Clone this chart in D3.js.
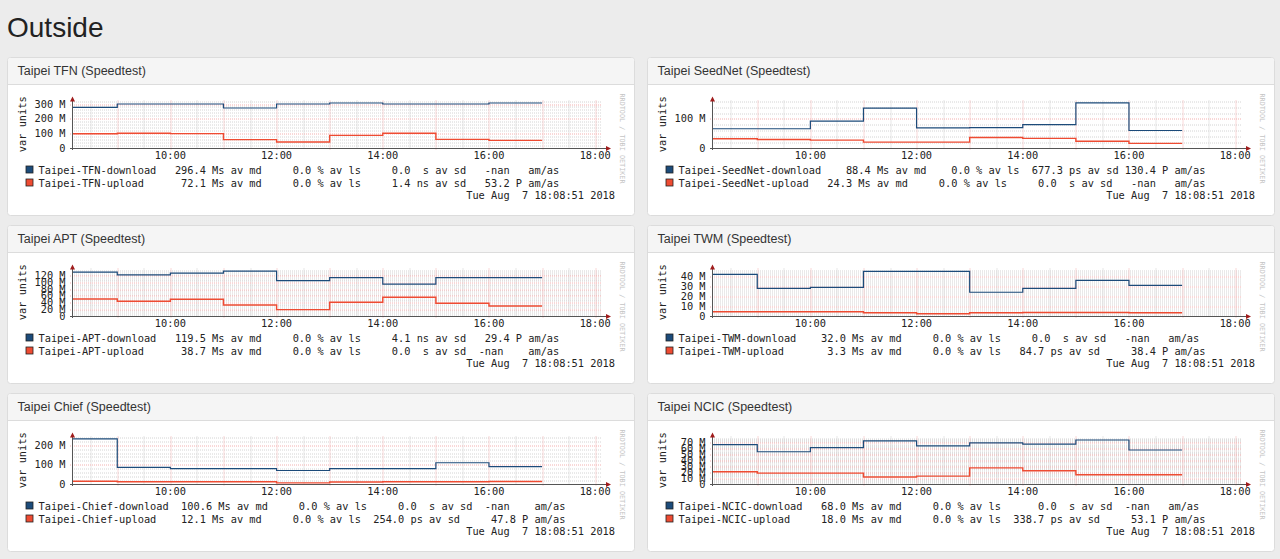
<!DOCTYPE html>
<html>
<head>
<meta charset="utf-8">
<script src="https://cdn.jsdelivr.net/npm/d3@7"></script>
<style>
  body { margin: 0; background: #ececec; }
  svg { display: block; }
  .mono { font-family: "DejaVu Sans Mono", monospace; white-space: pre; }
</style>
</head>
<body>
<svg id="page" width="1280" height="559"></svg>
<script>
// ------------------------------------
// Data
// ------------------------------------
const stepHours = [8.1475, 9, 10, 11, 12, 13, 14, 15, 16];   // start of each step
const endHour = 17;
const timeDomain = [8.1475, 18.1475];                        // 8:08:51 .. 18:08:51
const hourLabels = [10, 12, 14, 16, 18];
const stamp = "Tue Aug  7 18:08:51 2018";

const titles = ["Taipei TFN (Speedtest)", "Taipei SeedNet (Speedtest)", "Taipei APT (Speedtest)",
                "Taipei TWM (Speedtest)", "Taipei Chief (Speedtest)", "Taipei NCIC (Speedtest)"];

// download / upload in M
const tfnDown = [277, 300, 300, 273, 300, 307, 300, 300, 307];
const tfnUp   = [97, 101, 98, 57, 41, 86, 101, 59, 52];
const seedDown = [66, 66, 92, 137, 69, 70, 80, 155, 60];
const seedUp   = [32, 29, 27, 20, 20, 36, 33, 23, 16];
const aptDown = [131, 123, 128, 134, 106, 115, 95, 115, 115];
const aptUp   = [51, 44, 50, 33, 19, 41, 56, 38, 30];
const twmDown = [42, 28, 29, 45, 45, 24, 28, 36, 31];
const twmUp   = [4.3, 4.3, 4.3, 3.3, 2.3, 3.3, 3.5, 3.5, 3.3];
const chiefDown = [234, 86, 80, 80, 70, 80, 80, 110, 90];
const chiefUp   = [14, 12, 12, 12, 6, 10, 12, 12, 13];
const ncicDown = [67, 55, 62, 73.5, 65, 70, 68, 75, 58];
const ncicUp   = [21, 18.5, 18.5, 12, 13.5, 27.5, 22.5, 15.7, 15.7];

// y axis: max, label step, top label, minor grid step
const yMax   = [324, 163, 142, 48, 246, 81];
const yMajor = [100, 100, 20, 10, 100, 10];
const yTopLabel = [300, 100, 120, 40, 200, 70];
const yMinor = [20, 20, 5, 2, 20, 2];

// legend rows: [column, text]
const legendDown = [
  [[0,"Taipei-TFN-download"],[22,"296.4 Ms av md"],[41,"0.0 % av ls"],[57,"0.0  s av sd"],[72,"-nan"],[79,"am/as"]],
  [[0,"Taipei-SeedNet-download"],[27,"88.4 Ms av md"],[44,"0.0 % av ls"],[57,"677.3 ps av sd"],[72,"130.4 P am/as"]],
  [[0,"Taipei-APT-download"],[22,"119.5 Ms av md"],[41,"0.0 % av ls"],[57,"4.1 ns av sd"],[72,"29.4 P am/as"]],
  [[0,"Taipei-TWM-download"],[23,"32.0 Ms av md"],[41,"0.0 % av ls"],[57,"0.0  s av sd"],[72,"-nan"],[79,"am/as"]],
  [[0,"Taipei-Chief-download"],[23,"100.6 Ms av md"],[42,"0.0 % av ls"],[58,"0.0  s av sd"],[72,"-nan"],[80,"am/as"]],
  [[0,"Taipei-NCIC-download"],[23,"68.0 Ms av md"],[41,"0.0 % av ls"],[58,"0.0  s av sd"],[72,"-nan"],[79,"am/as"]]
];
const legendUp = [
  [[0,"Taipei-TFN-upload"],[23,"72.1 Ms av md"],[41,"0.0 % av ls"],[57,"1.4 ns av sd"],[72,"53.2 P am/as"]],
  [[0,"Taipei-SeedNet-upload"],[24,"24.3 Ms av md"],[42,"0.0 % av ls"],[58,"0.0  s av sd"],[73,"-nan"],[80,"am/as"]],
  [[0,"Taipei-APT-upload"],[23,"38.7 Ms av md"],[41,"0.0 % av ls"],[57,"0.0  s av sd"],[71,"-nan"],[79,"am/as"]],
  [[0,"Taipei-TWM-upload"],[24,"3.3 Ms av md"],[41,"0.0 % av ls"],[55,"84.7 ps av sd"],[73,"38.4 P am/as"]],
  [[0,"Taipei-Chief-upload"],[23,"12.1 Ms av md"],[41,"0.0 % av ls"],[54,"254.0 ps av sd"],[73,"47.8 P am/as"]],
  [[0,"Taipei-NCIC-upload"],[23,"18.0 Ms av md"],[41,"0.0 % av ls"],[54,"338.7 ps av sd"],[73,"53.1 P am/as"]]
];

const downSeries = [tfnDown, seedDown, aptDown, twmDown, chiefDown, ncicDown];
const upSeries = [tfnUp, seedUp, aptUp, twmUp, chiefUp, ncicUp];

// ------------------------------------
// Layout
// ------------------------------------
const cardPos = [[7.5, 57.5], [647.5, 57.5], [7.5, 225.5], [647.5, 225.5], [7.5, 393.5], [647.5, 393.5]];
const cardW = 627, cardH = 158;
const DOWN = "#1c4b7a", UP = "#ee4b32";
const MONO = 10.3;

const svg = d3.select("#page");

svg.append("text")
  .attr("x", 7).attr("y", 37)
  .attr("font-family", "Liberation Sans, Arial, sans-serif")
  .attr("font-size", 28)
  .attr("fill", "#222")
  .text("Outside");

function padCols(fields) {
  let s = "";
  fields.forEach(([c, t]) => {
    while (s.length < c) s += " ";
    if (s.length > c) s += " ";
    s += t;
  });
  return s;
}

function toSteps(values) {
  const pts = values.map((v, i) => ({ t: stepHours[i], v }));
  pts.push({ t: endHour, v: values[values.length - 1] });
  return pts;
}

cardPos.forEach(([x0, y0], i) => drawCard(x0, y0, i));

function drawCard(x0, y0, i) {
  const g = svg.append("g").attr("transform", `translate(${x0},${y0})`);

  g.append("rect")
    .attr("width", cardW).attr("height", cardH).attr("rx", 3)
    .attr("fill", "#fff").attr("stroke", "#dcdcdc");
  g.append("path")
    .attr("d", `M0.5,27 V3 Q0.5,0.5 3,0.5 H${cardW - 3} Q${cardW - 0.5},0.5 ${cardW - 0.5},3 V27 Z`)
    .attr("fill", "#f5f5f5");
  g.append("line")
    .attr("x1", 0).attr("x2", cardW).attr("y1", 27).attr("y2", 27)
    .attr("stroke", "#dcdcdc");
  g.append("text")
    .attr("x", 10).attr("y", 17)
    .attr("font-family", "Liberation Sans, Arial, sans-serif")
    .attr("font-size", 12.5)
    .attr("fill", "#333")
    .text(titles[i]);

  // plot area
  const left = 64.5, right = 593.5, top = 43, bottom = 90.5;

  const x = d3.scaleLinear().domain(timeDomain).range([left, left + 531]);
  const y = d3.scaleLinear().domain([0, yMax[i]]).range([bottom, top]);

  const grid = g.append("g");

  // minor grid
  d3.range(8.5, 18.01, 0.5).filter(h => h % 1 !== 0).forEach(h => {
    grid.append("line")
      .attr("x1", Math.round(x(h)) + 0.5).attr("x2", Math.round(x(h)) + 0.5)
      .attr("y1", top).attr("y2", bottom)
      .attr("stroke", "#cfcfcf").attr("stroke-dasharray", "1,1");
  });
  d3.range(yMinor[i], yMax[i], yMinor[i]).filter(v => v % yMajor[i] !== 0).forEach(v => {
    grid.append("line")
      .attr("x1", left).attr("x2", right)
      .attr("y1", Math.round(y(v)) + 0.5).attr("y2", Math.round(y(v)) + 0.5)
      .attr("stroke", "#d4d4d4").attr("stroke-dasharray", "1,1");
  });

  // major grid
  d3.range(9, 18.01, 1).forEach(h => {
    grid.append("line")
      .attr("x1", Math.round(x(h)) + 0.5).attr("x2", Math.round(x(h)) + 0.5)
      .attr("y1", top).attr("y2", bottom + 2)
      .attr("stroke", "#f3b0b0").attr("stroke-dasharray", "1,1");
  });
  d3.range(yMajor[i], yTopLabel[i] + 1, yMajor[i]).forEach(v => {
    grid.append("line")
      .attr("x1", left - 2).attr("x2", right)
      .attr("y1", Math.round(y(v)) + 0.5).attr("y2", Math.round(y(v)) + 0.5)
      .attr("stroke", "#f3b0b0").attr("stroke-dasharray", "1,1");
  });

  // series
  const line = d3.line()
    .x(d => x(d.t))
    .y(d => y(d.v))
    .curve(d3.curveStepAfter);

  g.append("path")
    .datum(toSteps(upSeries[i]))
    .attr("fill", "none").attr("stroke", UP).attr("stroke-width", 1.4)
    .attr("d", line);
  g.append("path")
    .datum(toSteps(downSeries[i]))
    .attr("fill", "none").attr("stroke", DOWN).attr("stroke-width", 1.2)
    .attr("d", line);

  // axes + arrows
  g.append("line")
    .attr("x1", left - 2).attr("x2", right + 6)
    .attr("y1", bottom + 0.5).attr("y2", bottom + 0.5)
    .attr("stroke", "#555");
  g.append("line")
    .attr("x1", left + 0.5).attr("x2", left + 0.5)
    .attr("y1", bottom + 2).attr("y2", top - 2)
    .attr("stroke", "#555");
  g.append("path")
    .attr("d", `M${right + 5},${bottom - 2} L${right + 10},${bottom + 0.5} L${right + 5},${bottom + 3} Z`)
    .attr("fill", "#a01c1c");
  g.append("path")
    .attr("d", `M${left - 2},${top + 1} L${left + 0.5},${top - 4} L${left + 3},${top + 1} Z`)
    .attr("fill", "#a01c1c");

  // tick labels
  g.selectAll(".xl")
    .data(hourLabels)
    .join("text")
    .attr("class", "mono")
    .attr("x", d => x(d)).attr("y", bottom + 10.5)
    .attr("text-anchor", "middle")
    .attr("font-size", MONO).attr("fill", "#222")
    .text(d => `${d}:00`);

  g.selectAll(".yl")
    .data(d3.range(0, yTopLabel[i] + 1, yMajor[i]))
    .join("text")
    .attr("class", "mono")
    .attr("x", 58).attr("y", d => y(d) + 3.5)
    .attr("text-anchor", "end")
    .attr("font-size", MONO).attr("fill", "#222")
    .text(d => d === 0 ? "0" : `${d} M`);

  g.append("text")
    .attr("class", "mono")
    .attr("transform", `translate(18,${(top + bottom) / 2}) rotate(-90)`)
    .attr("text-anchor", "middle")
    .attr("font-size", MONO).attr("fill", "#222")
    .text("var units");

  g.append("text")
    .attr("class", "mono")
    .attr("transform", `translate(612,36) rotate(90)`)
    .attr("font-size", 6.8).attr("fill", "#c4c4c4")
    .text("RRDTOOL / TOBI OETIKER");

  // legend
  [[legendDown[i], DOWN], [legendUp[i], UP]].forEach(([fields, color], r) => {
    const by = 116 + r * 13;
    g.append("rect")
      .attr("x", 18.5).attr("y", by - 7.5).attr("width", 7).attr("height", 7)
      .attr("fill", color).attr("stroke", "#222").attr("stroke-width", 0.8);
    g.append("text")
      .attr("class", "mono")
      .attr("x", 31).attr("y", by)
      .attr("font-size", MONO).attr("fill", "#222")
      .text(padCols(fields));
  });

  g.append("text")
    .attr("class", "mono")
    .attr("x", 607.5).attr("y", 141)
    .attr("text-anchor", "end")
    .attr("font-size", MONO).attr("fill", "#222")
    .text(stamp);
}
</script>
</body>
</html>
